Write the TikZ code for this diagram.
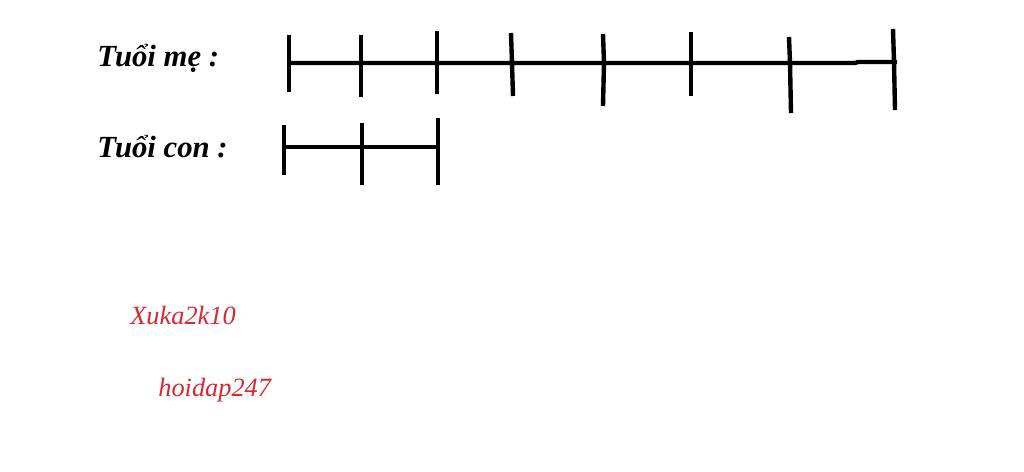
\documentclass[tikz,border=0pt]{standalone}
\usepackage{fontspec}
\setmainfont{Liberation Serif}
\begin{document}
\begin{tikzpicture}[x=0.02cm,y=-0.02cm,
  bar/.style={line width=2.5pt,black},
  tick/.style={line width=2.5pt,black},
  lbl/.style={anchor=west,inner sep=0pt,font=\fontsize{17.5}{20}\selectfont\bfseries\itshape},
  sig/.style={anchor=west,inner sep=0pt,text={rgb,255:red,215;green,40;blue,50},font=\fontsize{15}{17}\selectfont\itshape}]
\useasboundingbox (0,0) rectangle (1024,471);
\node[lbl] (me) at (97,58) {Tuổi mẹ :};
\node[lbl] (con) at (97,147) {Tuổi con :};
% mother's line
\draw[bar] (288,63) -- (855,63) -- (858,62) -- (897,62);
\draw[tick] (289,35) -- (289,92);
\draw[tick] (361,35) -- (361,97);
\draw[tick] (437,31) -- (437,94);
\draw[tick] (511,33) -- (512,63) -- (513,96);
\draw[tick] (603,34) -- (604,63) -- (603,106);
\draw[tick] (691,32) -- (691,96);
\draw[tick] (789,37) -- (790,63) -- (791,113);
\draw[tick] (893,29) -- (894,62) -- (895,110);
% child's line
\draw[bar] (283,147) -- (438,147);
\draw[tick] (284,125) -- (284,175);
\draw[tick] (362,123) -- (362,185);
\draw[tick] (438,118) -- (438,185);
\node[sig] (s1) at (130,316) {Xuka2k10};
\node[sig] (s2) at (158,390) {hoidap247};
\end{tikzpicture}
\end{document}
